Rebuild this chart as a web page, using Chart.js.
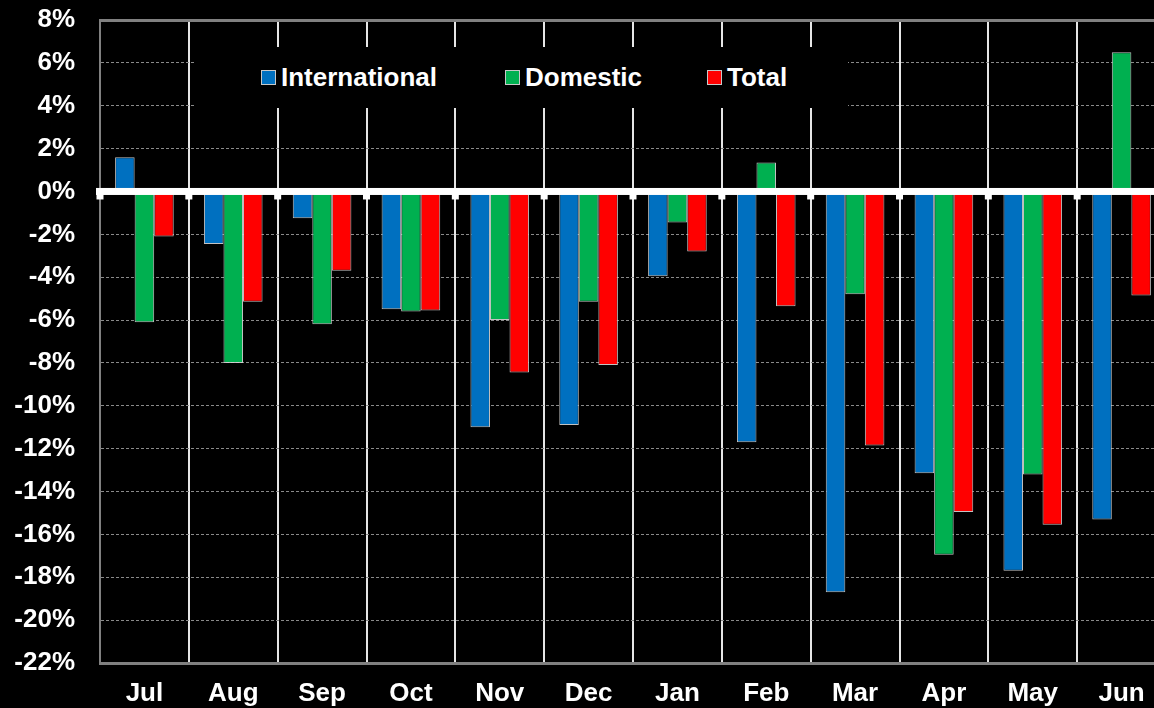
<!DOCTYPE html>
<html>
<head>
<meta charset="utf-8">
<script src="https://cdn.jsdelivr.net/npm/chart.js@4.4.1/dist/chart.umd.min.js"></script>
<style>
  html, body { margin: 0; padding: 0; background: #000; overflow: hidden; }
  #wrap { position: absolute; left: 0; top: 0; width: 1166px; height: 708px; }
  #legend {
    position: absolute; left: 196px; top: 47px; width: 652px; height: 61px;
    background: #000; z-index: 5; display: flex; align-items: center;
    font-family: "Liberation Sans", Arial, sans-serif; font-weight: bold; font-size: 26px; color: #fff;
  }
  .item { position: absolute; display: flex; align-items: center; top: 0; height: 61px; }
  .sw { width: 13px; height: 13px; border: 1px solid #c8c8c8; margin-right: 5px; }
</style>
</head>
<body>
<div id="wrap"><canvas id="c"></canvas></div>
<div id="legend"></div>
<script>
const categories = ["Jul","Aug","Sep","Oct","Nov","Dec","Jan","Feb","Mar","Apr","May","Jun"];
const international = [1.6, -2.45, -1.25, -5.5, -11.0, -10.9, -3.95, -11.7, -18.7, -13.15, -17.7, -15.3];
const domestic      = [-6.1, -8.0, -6.2, -5.6, -6.0, -5.15, -1.45, 1.35, -4.8, -16.95, -13.2, 6.5];
const total         = [-2.1, -5.15, -3.7, -5.55, -8.45, -8.1, -2.8, -5.35, -11.85, -14.95, -15.55, -4.85];
const seriesNames   = ["International", "Domestic", "Total"];
const seriesColors  = ["#0070C0", "#00B050", "#FF0000"];
const yMin = -22, yMax = 8, yStep = 2;

const FONT = { family: '"Liberation Sans", Arial, sans-serif', weight: 'bold', size: 26 };

const zeroLinePlugin = {
  id: 'zeroLine',
  afterDatasetsDraw(chart) {
    const { ctx, chartArea, scales } = chart;
    const y0 = scales.y.getPixelForValue(0);
    const xs = scales.x;
    ctx.save();
    ctx.fillStyle = '#ffffff';
    ctx.fillRect(chartArea.left - 4, y0 - 3.5, chartArea.right - chartArea.left + 4, 7);
    const n = categories.length;
    const half = (xs.getPixelForValue(1) - xs.getPixelForValue(0)) / 2;
    for (let i = 0; i <= n; i++) {
      const bx = xs.getPixelForValue(Math.min(i, n - 1)) + (i === n ? half : -half);
      ctx.fillRect(bx - 3.5, y0, 7, 8);
    }
    ctx.restore();
  }
};

const values = [international, domestic, total];
const datasets = seriesNames.map((name, i) => ({
  label: name,
  data: values[i],
  backgroundColor: seriesColors[i],
  borderColor: 'rgba(215,215,215,0.9)',
  borderWidth: 1,
  borderSkipped: 'start',
  barPercentage: 1.0,
  categoryPercentage: 0.66
}));

new Chart(document.getElementById('c'), {
  type: 'bar',
  data: { labels: categories, datasets },
  options: {
    responsive: true,
    maintainAspectRatio: false,
    animation: false,
    layout: { padding: { top: 20, left: 0, right: 0, bottom: 0 } },
    plugins: { legend: { display: false }, tooltip: { enabled: false } },
    scales: {
      x: {
        afterFit(scale) { scale.height = 45; },
        grid: { color: '#e6e6e6', lineWidth: 2, drawTicks: false, offset: true },
        border: { display: true, color: '#808080', width: 3 },
        ticks: { color: '#ffffff', font: FONT, padding: 15, maxRotation: 0 }
      },
      y: {
        min: yMin, max: yMax,
        afterFit(scale) { scale.width = 100; scale.paddingTop = 0; scale.paddingBottom = 0; },
        grid: {
          color: (c) => (c.tick && c.tick.value === 0) ? 'rgba(0,0,0,0)' :
                        (c.tick && c.tick.value === yMax) ? '#808080' : '#8a8a8a',
          lineWidth: (c) => (c.tick && c.tick.value === yMax) ? 3 : 1,
          drawTicks: false
        },
        border: {
          display: true, color: '#808080', width: 2,
          dash: (c) => (c.tick && c.tick.value === yMax) ? [] : [3, 2]
        },
        ticks: {
          stepSize: yStep, color: '#ffffff', font: FONT, padding: 25,
          callback: (v) => v + '%'
        }
      }
    }
  },
  plugins: [zeroLinePlugin]
});

const legend = document.getElementById('legend');
const legendLeft = [65, 309, 511];
seriesNames.forEach((name, i) => {
  const it = document.createElement('div');
  it.className = 'item';
  it.style.left = legendLeft[i] + 'px';
  const sw = document.createElement('div');
  sw.className = 'sw';
  sw.style.background = seriesColors[i];
  const tx = document.createElement('span');
  tx.textContent = name;
  it.appendChild(sw); it.appendChild(tx);
  legend.appendChild(it);
});
</script>
</body>
</html>
